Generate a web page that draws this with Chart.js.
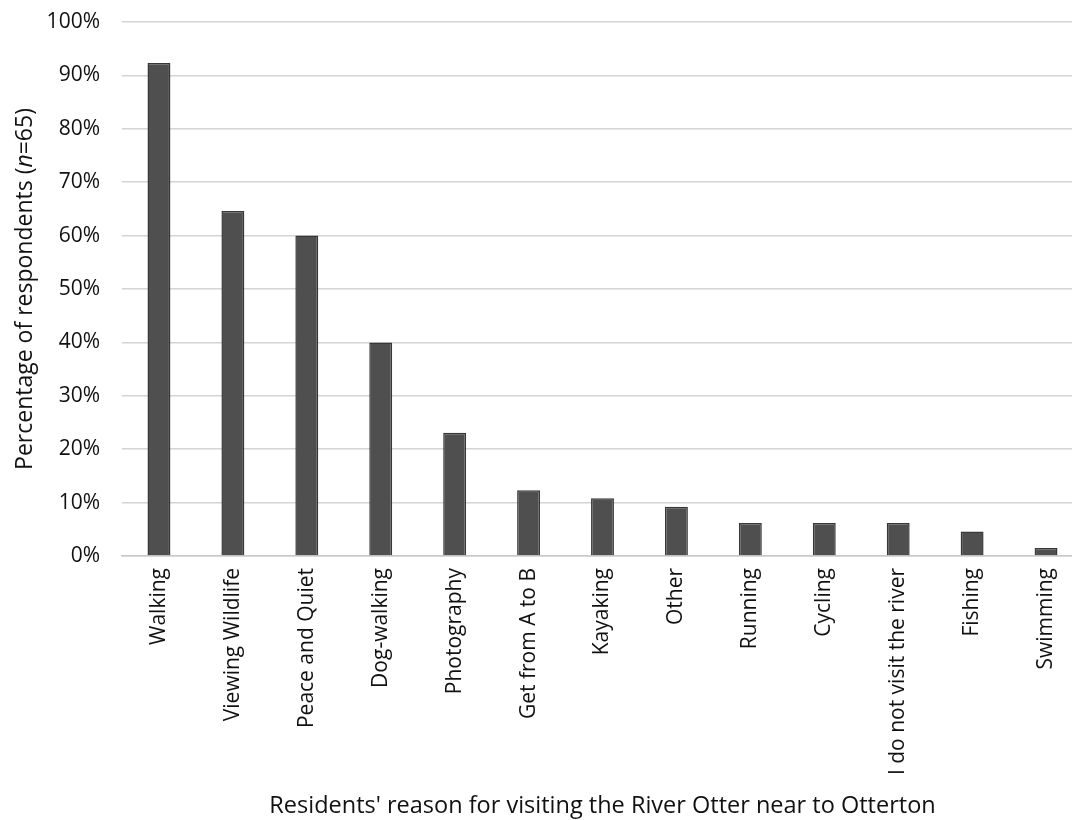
<!DOCTYPE html>
<html>
<head>
<meta charset="utf-8">
<script src="https://cdn.jsdelivr.net/npm/chart.js@4"></script>
<style>
  html, body { margin: 0; padding: 0; background: #fff; overflow: hidden; }
  #wrap { width: 1072px; height: 820px; overflow: hidden; }
</style>
</head>
<body>
<div id="wrap"><canvas id="myChart" width="1084" height="820"></canvas></div>
<script>
// survey data, n = 65
const categories = ["Walking", "Viewing Wildlife", "Peace and Quiet", "Dog-walking", "Photography",
  "Get from A to B", "Kayaking", "Other", "Running", "Cycling", "I do not visit the river", "Fishing", "Swimming"]
const percentages = [92.3, 64.6, 60.0, 40.0, 23.1, 12.3, 10.8, 9.2, 6.2, 6.2, 6.2, 4.6, 1.5]
const yTicks = [0, 10, 20, 30, 40, 50, 60, 70, 80, 90, 100]

const FONT = "'Open Sans', 'Liberation Sans', sans-serif"
const TEXT = "#111111"

// y title has an italic "n", so it is drawn by hand
const yTitlePlugin = {
  id: "yTitle",
  afterDraw(chart) {
    const c = chart.ctx
    const area = chart.chartArea
    const parts = [["Percentage of respondents (", "normal"], ["n", "italic"], ["=65)", "normal"]]
    c.save()
    let total = 0
    parts.forEach(p => { c.font = p[1] + " 23px " + FONT; total += c.measureText(p[0]).width })
    c.translate(25, (area.top + area.bottom) / 2)
    c.rotate(-Math.PI / 2)
    c.fillStyle = TEXT
    c.textBaseline = "middle"
    c.textAlign = "left"
    let x = -total / 2
    parts.forEach(p => {
      c.font = p[1] + " 23px " + FONT
      c.fillText(p[0], x, 0)
      x += c.measureText(p[0]).width
    })
    c.restore()
  }
}

const ctx = document.getElementById("myChart")
try {
  new Chart(ctx, {
    type: "bar",
    data: {
      labels: categories,
      datasets: [{
        label: "Percentage of respondents",
        data: percentages,
        backgroundColor: "#4f4f4f",
        borderColor: "#383838",
        borderWidth: 1.5,
        barPercentage: 0.31,
        categoryPercentage: 1
      }]
    },
    options: {
      responsive: false,
      devicePixelRatio: 1,
      animation: false,
      layout: { padding: { top: 22, right: 1, bottom: 0, left: 0 } },
      plugins: { legend: { display: false }, tooltip: { enabled: false } },
      scales: {
        x: {
          grid: { display: false, drawTicks: false },
          border: { color: "#c8c8c8", width: 1.5 },
          ticks: {
            color: TEXT, font: { family: FONT, size: 21 },
            minRotation: 90, maxRotation: 90, padding: 12, autoSkip: false
          },
          title: {
            display: true,
            text: "Residents' reason for visiting the River Otter near to Otterton",
            color: TEXT, font: { family: FONT, size: 23.5 }, padding: { top: 0, bottom: 0 }
          },
          afterFit(scale) { scale.height = 264 }
        },
        y: {
          min: 0, max: 100,
          afterBuildTicks(scale) { scale.ticks = yTicks.map(v => ({ value: v })) },
          grid: { color: "#d4d4d4", lineWidth: 1.5, drawTicks: false },
          border: { display: false },
          ticks: {
            color: TEXT, font: { family: FONT, size: 21 }, padding: 22,
            callback: v => v + "%"
          },
          afterFit(scale) {
            scale.width = 122
            scale.paddingTop = 0
            scale.paddingBottom = 0
          }
        }
      }
    },
    plugins: [yTitlePlugin]
  })
} catch (error) { console.log(error) }
</script>
</body>
</html>
